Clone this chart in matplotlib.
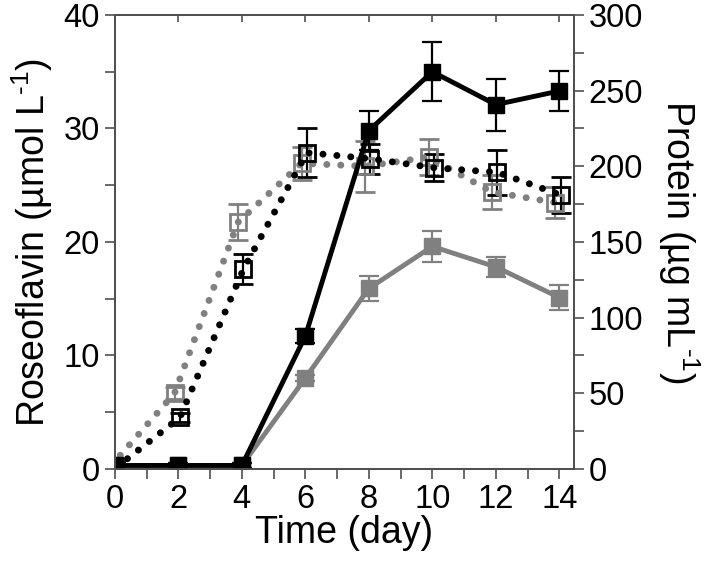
import numpy as np
import matplotlib
matplotlib.use('Agg')
import matplotlib.pyplot as plt
from matplotlib.ticker import MultipleLocator

plt.rcParams['font.family'] = ['Liberation Sans', 'DejaVu Sans']
plt.rcParams['mathtext.fontset'] = 'custom'
plt.rcParams['mathtext.rm'] = 'Liberation Sans'
plt.rcParams['mathtext.default'] = 'regular'

days = [0, 2, 4, 6, 8, 10, 12, 14]

# roseoflavin (left axis), filled squares, solid lines
rf_black = [0.3, 0.3, 0.3, 11.7, 29.8, 35.0, 32.1, 33.3]
rf_black_err = [0.2, 0.2, 0.2, 0.6, 1.7, 2.6, 2.3, 1.8]
rf_gray = [0.3, 0.3, 0.3, 8.0, 15.9, 19.6, 17.8, 15.1]
rf_gray_err = [0.2, 0.2, 0.2, 0.3, 1.1, 1.4, 0.9, 1.1]

# protein (right axis), open squares, dotted lines
pr_black = [1, 34, 132, 209, 205, 199, 196, 181]
pr_black_err = [1, 3, 10, 16, 10, 9, 15, 12]
pr_gray = [2, 50, 163, 202, 200, 206, 183, 176]
pr_gray_err = [1, 4, 12, 11, 17, 12, 11, 10]

black = '#000000'
gray = '#808080'
spine_col = '#505050'

fig = plt.figure(figsize=(7.09, 5.76), dpi=100)
ax1 = fig.add_axes([0.162, 0.186, 0.647, 0.788])
ax2 = ax1.twinx()
ax1.set_zorder(ax2.get_zorder() + 1)
ax1.patch.set_visible(False)

x = np.array(days, dtype=float)
dot_style = (0, (0.01, 2.0))

# protein series (dotted)
ax2.errorbar(x - 0.12, pr_gray, yerr=pr_gray_err, color=gray, lw=5,
             linestyle=dot_style, dash_capstyle='round', marker='s', ms=12,
             mfc='none', mec=gray, mew=2, ecolor=gray, elinewidth=1.6,
             capsize=7, capthick=1.6)
ax2.errorbar(x + 0.05, pr_black, yerr=pr_black_err, color=black, lw=5,
             linestyle=dot_style, dash_capstyle='round', marker='s', ms=12,
             mfc='none', mec=black, mew=2, ecolor=black, elinewidth=1.6,
             capsize=7, capthick=1.6)

# roseoflavin series (solid)
ax1.errorbar(x, rf_gray, yerr=rf_gray_err, color=gray, lw=3.5, marker='s',
             ms=12, ecolor=gray, elinewidth=1.6, capsize=7, capthick=1.6)
ax1.errorbar(x, rf_black, yerr=rf_black_err, color=black, lw=3.5, marker='s',
             ms=12, ecolor=black, elinewidth=1.6, capsize=7, capthick=1.6)

ax1.set_xlim(0, 14.45)
ax1.set_ylim(0, 40)
ax2.set_ylim(0, 300)

ax1.xaxis.set_major_locator(MultipleLocator(2))
ax1.xaxis.set_minor_locator(MultipleLocator(1))
ax1.yaxis.set_major_locator(MultipleLocator(10))
ax1.yaxis.set_minor_locator(MultipleLocator(5))
ax2.yaxis.set_major_locator(MultipleLocator(50))
ax2.yaxis.set_minor_locator(MultipleLocator(25))

for a in (ax1, ax2):
    for s in a.spines.values():
        s.set_color(spine_col)
        s.set_linewidth(1.3)
    a.tick_params(which='both', direction='out', length=7, width=1.2,
                  color=spine_col, labelsize=23.5, pad=4)

top = ax1.secondary_xaxis('top')
top.xaxis.set_major_locator(MultipleLocator(2))
top.tick_params(direction='in', length=5, width=1.2, color=spine_col,
                labeltop=False)
top.spines['top'].set_color(spine_col)
top.spines['top'].set_linewidth(1.3)

ax1.set_xlabel('Time (day)', fontsize=27, labelpad=0)
ax1.set_ylabel('Roseoflavin (µmol L$^{\\text{-1}}$)', fontsize=27, labelpad=6)
ax2.set_ylabel('Protein (µg mL$^{\\text{-1}}$)', fontsize=27, rotation=270,
               labelpad=42)

fig.savefig('out.png', dpi=100)
